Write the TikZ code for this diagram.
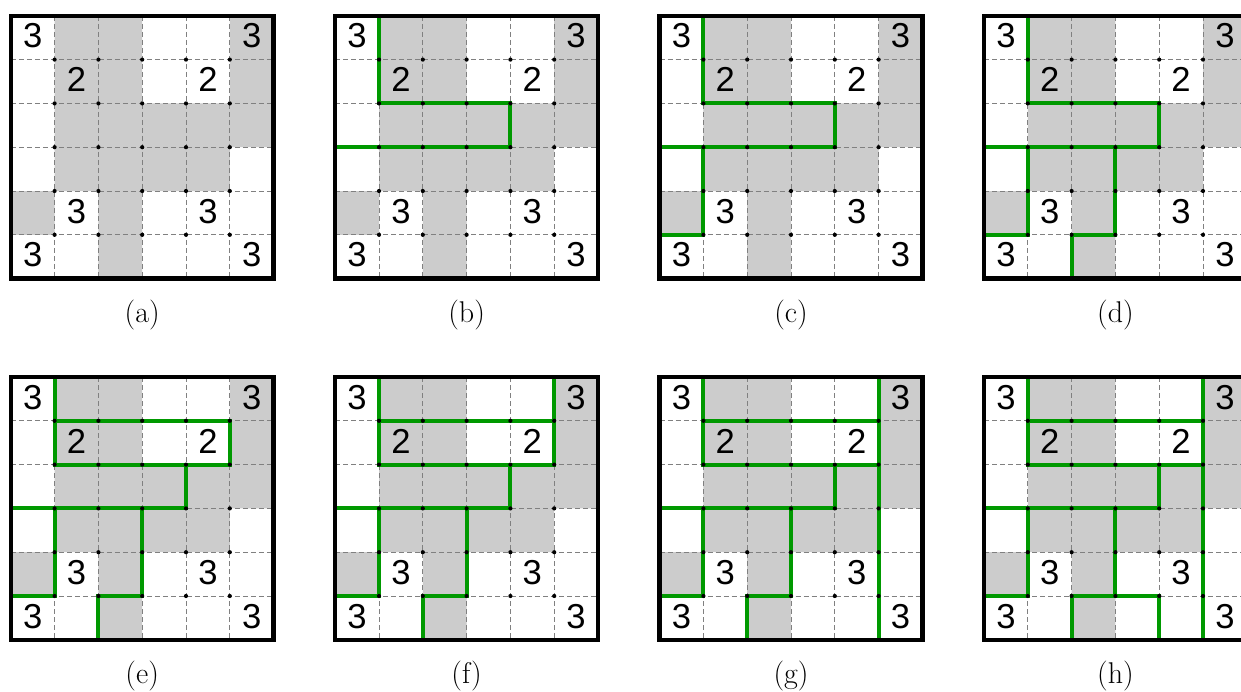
\documentclass[tikz,border=0pt]{standalone}
\usepackage{fontspec}
\newfontfamily\digitfont{Liberation Sans}
\definecolor{cellgray}{RGB}{204,204,204}
\definecolor{pathgreen}{RGB}{0,153,0}
\definecolor{dashgray}{RGB}{128,128,128}
\tikzset{
  graycell/.style={fill=cellgray, draw=none},
  gridline/.style={draw=dashgray, line width=0.45pt, dash pattern=on 2.5pt off 1.5pt},
  outerframe/.style={draw=black, line width=2.2pt},
  greenline/.style={draw=pathgreen, line width=2pt, line cap=square, line join=miter},
  vdot/.style={fill=black, draw=none},
  digit/.style={font=\digitfont\fontsize{17.3}{20}\selectfont, inner sep=0pt},
  caption/.style={font=\fontsize{15}{18}\selectfont, inner sep=0pt}
}
\newcommand\pathsB{\draw[greenline] (1,0)--(1,2)--(4,2)--(4,3)--(0,3);}
\newcommand\pathsC{\pathsB\draw[greenline] (1,3)--(1,5)--(0,5);}
\newcommand\pathsD{\pathsC\draw[greenline] (3,3)--(3,5)--(2,5)--(2,6);}
\newcommand\pathsE{\pathsD\draw[greenline] (1,1)--(5,1)--(5,2)--(4,2);}
\newcommand\pathsF{\pathsE\draw[greenline] (5,0)--(5,1);}
\newcommand\pathsG{\pathsF\draw[greenline] (5,2)--(5,6);}
\newcommand\pathsH{\pathsG\draw[greenline] (3,5)--(4,5)--(4,6);}
\newcommand\drawpanel[4]{%
\begin{scope}[shift={(#2,#3)}, x=21.9pt, y=-21.9pt]
  \fill[graycell] (1,0) rectangle (3,2) (5,0) rectangle (6,3) (1,2) rectangle (5,4)
                  (0,4) rectangle (1,5) (2,4) rectangle (3,6);
  \foreach \k in {1,...,5} {
    \draw[gridline] (\k,0) -- (\k,6);
    \draw[gridline] (0,\k) -- (6,\k);
  }
  #4
  \draw[outerframe] (0,0) rectangle (6,6);
  \foreach \i in {1,...,5} \foreach \j in {1,...,5} \fill[vdot] (\i,\j) circle (1.05pt);
  \node[digit] (#1-r0c0) at (0.5,0.46) {3};
  \node[digit] (#1-r0c5) at (5.5,0.46) {3};
  \node[digit] (#1-r1c1) at (1.5,1.46) {2};
  \node[digit] (#1-r1c4) at (4.5,1.46) {2};
  \node[digit] (#1-r4c1) at (1.5,4.46) {3};
  \node[digit] (#1-r4c4) at (4.5,4.46) {3};
  \node[digit] (#1-r5c0) at (0.5,5.46) {3};
  \node[digit] (#1-r5c5) at (5.5,5.46) {3};
\end{scope}}
\begin{document}
\begin{tikzpicture}[x=0.5pt, y=-0.5pt]
  \useasboundingbox (0,0) rectangle (1241,691);
  \fill[white] (0,0) rectangle (1241,691);
  \clip (0,0) rectangle (1241,691);
  \drawpanel{a}{10.8}{15.8}{}
  \drawpanel{b}{335.2}{15.8}{\pathsB}
  \drawpanel{c}{659.6}{15.8}{\pathsC}
  \drawpanel{d}{984.0}{15.8}{\pathsD}
  \drawpanel{e}{10.8}{377}{\pathsE}
  \drawpanel{f}{335.2}{377}{\pathsF}
  \drawpanel{g}{659.6}{377}{\pathsG}
  \drawpanel{h}{984.0}{377}{\pathsH}
  \node[caption] (cap-a) at (142.2,315.5) {(a)};
  \node[caption] (cap-b) at (466.6,315.5) {(b)};
  \node[caption] (cap-c) at (791.0,315.5) {(c)};
  \node[caption] (cap-d) at (1115.4,315.5) {(d)};
  \node[caption] (cap-e) at (142.2,676.5) {(e)};
  \node[caption] (cap-f) at (466.6,676.5) {(f)};
  \node[caption] (cap-g) at (791.0,676.5) {(g)};
  \node[caption] (cap-h) at (1115.4,676.5) {(h)};
\end{tikzpicture}
\end{document}
